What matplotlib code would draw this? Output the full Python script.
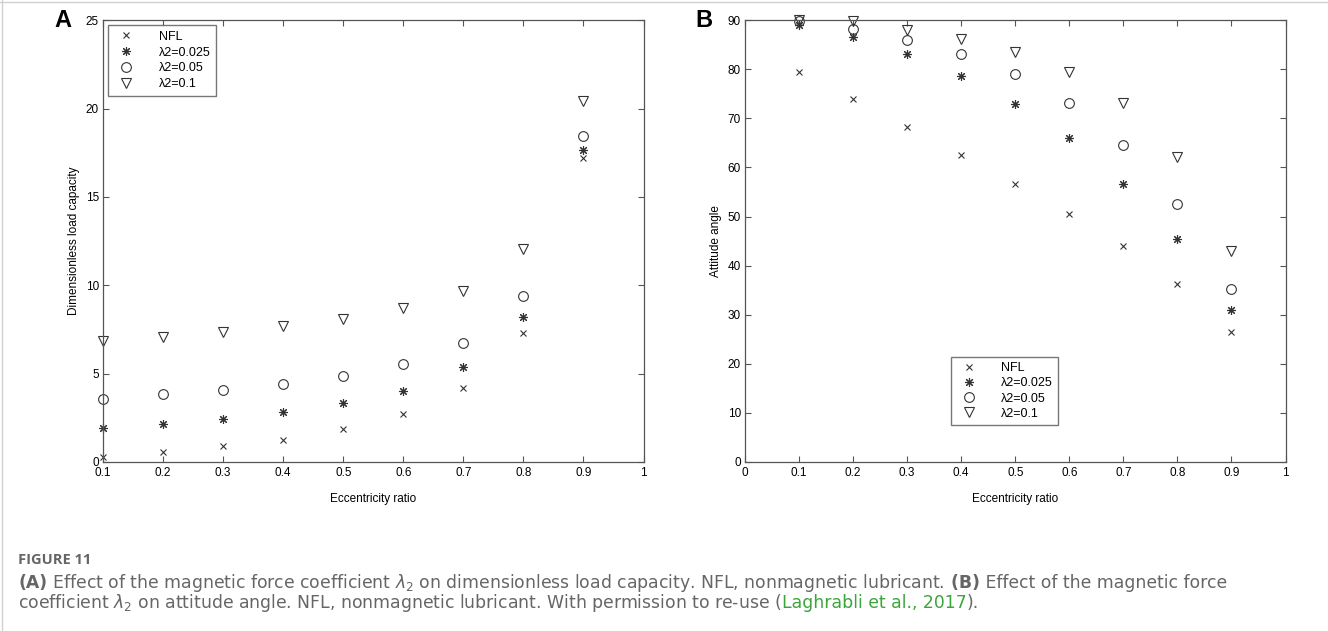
import matplotlib
matplotlib.use('Agg')
import matplotlib.pyplot as plt
from matplotlib.lines import Line2D

ecc = [0.1, 0.2, 0.3, 0.4, 0.5, 0.6, 0.7, 0.8, 0.9]
labels = ['NFL', 'λ2=0.025', 'λ2=0.05', 'λ2=0.1']

# panel A: dimensionless load capacity
load_nfl = [0.3, 0.55, 0.89, 1.26, 1.85, 2.7, 4.19, 7.32, 17.2]
load_025 = [1.91, 2.13, 2.44, 2.8, 3.31, 4.0, 5.35, 8.21, 17.66]
load_05 = [3.56, 3.82, 4.09, 4.43, 4.88, 5.55, 6.73, 9.37, 18.46]
load_1 = [6.85, 7.09, 7.38, 7.68, 8.11, 8.7, 9.7, 12.05, 20.4]

# panel B: attitude angle
ang_nfl = [79.5, 73.9, 68.3, 62.6, 56.7, 50.6, 43.9, 36.2, 26.4]
ang_025 = [89.0, 86.5, 83.2, 78.7, 73.0, 65.9, 56.7, 45.5, 31.0]
ang_05 = [89.8, 88.2, 86.0, 83.1, 79.0, 73.1, 64.6, 52.5, 35.3]
ang_1 = [89.95, 89.8, 88.0, 86.2, 83.6, 79.5, 73.2, 62.2, 43.0]

plt.rcParams['font.family'] = ['Liberation Sans', 'DejaVu Sans']

fig = plt.figure(figsize=(13.28, 6.31), dpi=100)

mk = ['x', (8, 2, 0), 'o', 'v']
ms = [5, 6.5, 7, 7.5]
col = '#333333'


def draw_series(ax, ys):
    for i in range(len(ys)):
        ax.plot(ecc, ys[i], linestyle='none', marker=mk[i], markersize=ms[i],
                markerfacecolor='none', markeredgecolor=col, markeredgewidth=0.8,
                label=labels[i], clip_on=False)


def style_ax(ax):
    for s in ax.spines.values():
        s.set_color('#555555')
        s.set_linewidth(0.9)
    ax.tick_params(direction='in', top=True, right=True, length=4, width=0.8,
                   color='#555555', labelsize=8.5)
    ax.tick_params(axis='x', pad=4)
    ax.tick_params(axis='y', pad=3)


ax1 = fig.add_axes([0.0776, 0.268, 0.407, 0.700])
draw_series(ax1, [load_nfl, load_025, load_05, load_1])
ax1.set_xlim(0.1, 1)
ax1.set_ylim(0, 25)
ax1.set_xticks([0.1, 0.2, 0.3, 0.4, 0.5, 0.6, 0.7, 0.8, 0.9, 1])
ax1.set_xticklabels(['0.1', '0.2', '0.3', '0.4', '0.5', '0.6', '0.7', '0.8', '0.9', '1'])
ax1.set_yticks([0, 5, 10, 15, 20, 25])
ax1.set_xlabel('Eccentricity ratio', fontsize=8.5, labelpad=10)
ax1.set_ylabel('Dimensionless load capacity', fontsize=8.5)
style_ax(ax1)
ax1.legend(loc='upper left', fontsize=9, frameon=True, fancybox=False,
           edgecolor='#555555', handletextpad=1.6, borderpad=0.45,
           labelspacing=0.3, borderaxespad=0.4)

ax2 = fig.add_axes([0.561, 0.268, 0.407, 0.700])
draw_series(ax2, [ang_nfl, ang_025, ang_05, ang_1])
ax2.set_xlim(0, 1)
ax2.set_ylim(0, 90)
ax2.set_xticks([0, 0.1, 0.2, 0.3, 0.4, 0.5, 0.6, 0.7, 0.8, 0.9, 1])
ax2.set_xticklabels(['0', '0.1', '0.2', '0.3', '0.4', '0.5', '0.6', '0.7', '0.8', '0.9', '1'])
ax2.set_yticks(range(0, 91, 10))
ax2.set_xlabel('Eccentricity ratio', fontsize=8.5, labelpad=10)
ax2.set_ylabel('Attitude angle', fontsize=8.5)
style_ax(ax2)
ax2.legend(loc='lower left', bbox_to_anchor=(0.37, 0.07), fontsize=9,
           frameon=True, fancybox=False, edgecolor='#555555',
           handletextpad=1.6, borderpad=0.4, labelspacing=0.25)

fig.text(0.041, 0.968, 'A', fontsize=17, fontweight='bold', va='center', ha='left')
fig.text(0.524, 0.968, 'B', fontsize=17, fontweight='bold', va='center', ha='left')

# outer frame lines of the page
fig.add_artist(Line2D([0, 1], [0.997, 0.997], color='#d0d0d0', lw=1))
fig.add_artist(Line2D([0.0015, 0.0015], [0, 1], color='#d0d0d0', lw=1))

# caption
gray = '#666666'
fig.text(0.0136, 1 - 560 / 631, 'FIGURE 11', fontsize=10.5, fontweight='bold',
         color=gray, family=['Open Sans', 'DejaVu Sans'], va='center')

renderer = fig.canvas.get_renderer()
cap_font = ['DejaVu Sans']


def write_line(pieces, x0, y):
    x = x0
    for txt, w, c in pieces:
        t = fig.text(x, y, txt, fontsize=12.4, fontweight=w, color=c,
                     family=cap_font, va='center')
        bb = t.get_window_extent(renderer=renderer)
        x = x + bb.width / fig.bbox.width


write_line([('(A)', 'bold', gray),
            (' Effect of the magnetic force coefficient $\\lambda_2$ on dimensionless load capacity. NFL, nonmagnetic lubricant.', 'normal', gray),
            (' (B)', 'bold', gray),
            (' Effect of the magnetic force', 'normal', gray)],
           0.0136, 1 - 583 / 631)
write_line([('coefficient $\\lambda_2$ on attitude angle. NFL, nonmagnetic lubricant. With permission to re-use (', 'normal', gray),
            ('Laghrabli et al., 2017', 'normal', '#3aa53a'),
            (').', 'normal', gray)],
           0.0136, 1 - 603 / 631)

fig.savefig('out.png', dpi=100)
